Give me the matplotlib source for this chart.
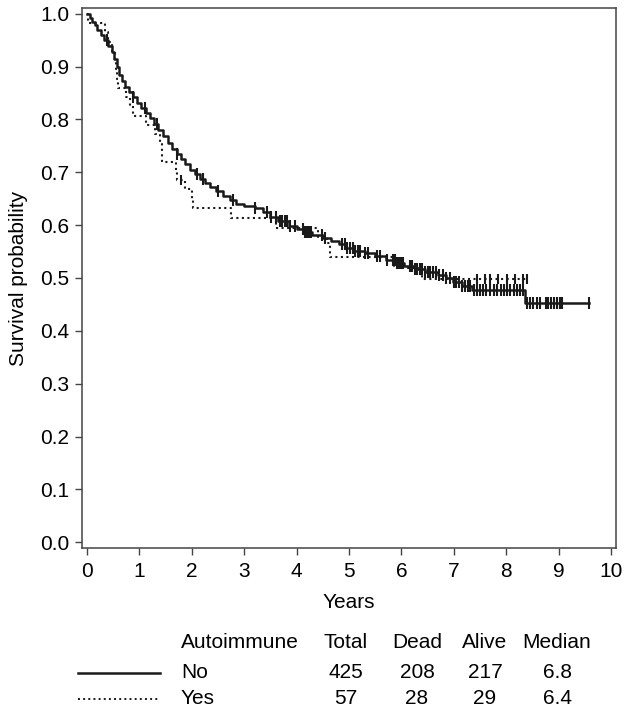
import numpy as np
import matplotlib
matplotlib.use("Agg")
from matplotlib import pyplot as plt
from matplotlib.lines import Line2D

plt.rcParams['font.family'] = ['Liberation Sans', 'DejaVu Sans']

# Kaplan-Meier step points: (time in years, survival after step)
no_times = [0.00, 0.05, 0.10, 0.15, 0.20, 0.27, 0.33, 0.40, 0.47, 0.52, 0.57, 0.62,
            0.67, 0.72, 0.80, 0.88, 0.95, 1.03, 1.12, 1.20, 1.28, 1.36, 1.45, 1.55,
            1.63, 1.72, 1.80, 1.88, 1.97, 2.06, 2.15, 2.25, 2.35, 2.47, 2.60, 2.72,
            2.85, 3.00, 3.20, 3.35, 3.50, 3.65, 3.85, 4.00, 4.15, 4.30, 4.50, 4.65,
            4.80, 4.95, 5.10, 5.30, 5.50, 5.70, 5.90, 6.05, 6.25, 6.45, 6.70, 6.85,
            6.98, 7.15, 7.35, 8.36]
no_surv = [1.000, 0.993, 0.985, 0.978, 0.970, 0.960, 0.950, 0.940, 0.928, 0.915, 0.900, 0.885,
           0.872, 0.862, 0.852, 0.842, 0.832, 0.822, 0.812, 0.802, 0.792, 0.780, 0.768, 0.755,
           0.745, 0.735, 0.725, 0.715, 0.705, 0.697, 0.688, 0.680, 0.672, 0.664, 0.655, 0.647,
           0.640, 0.636, 0.632, 0.625, 0.615, 0.607, 0.598, 0.593, 0.587, 0.582, 0.575, 0.570,
           0.565, 0.557, 0.552, 0.547, 0.541, 0.535, 0.528, 0.522, 0.517, 0.511, 0.506, 0.500,
           0.492, 0.485, 0.477, 0.452]
no_end = 9.58
no_censor = [0.38, 0.88, 1.10, 1.33, 1.72, 2.10, 2.22, 2.50, 2.79, 3.20, 3.43, 3.52, 3.60,
             3.68, 3.72, 3.77, 3.82, 3.87, 3.97, 4.12, 4.16, 4.20, 4.24, 4.28, 4.48, 4.54,
             4.87, 4.92, 4.97, 5.02, 5.07, 5.12, 5.17, 5.21, 5.30, 5.36, 5.53, 5.59, 5.73,
             5.84, 5.88, 5.92, 5.96, 6.00, 6.03, 6.16, 6.20, 6.25, 6.30, 6.35, 6.40, 6.45,
             6.50, 6.55, 6.60, 6.66, 6.72, 6.80, 6.86, 6.92, 7.00, 7.05, 7.10, 7.16, 7.22,
             7.28, 7.31, 7.38, 7.44, 7.50, 7.56, 7.62, 7.70, 7.76, 7.82, 7.90, 7.96, 8.02,
             8.08, 8.14, 8.20, 8.26, 8.32, 8.40, 8.45, 8.52, 8.58, 8.64, 8.75, 8.80, 8.86,
             8.92, 8.97, 9.02, 9.07, 9.58]

yes_times = [0.00, 0.02, 0.35, 0.40, 0.48, 0.53, 0.55, 0.57, 0.60, 0.75, 0.82, 0.88,
             1.12, 1.30, 1.40, 1.43, 1.70, 1.72, 1.88, 2.00, 2.02, 2.75, 3.60, 4.40,
             4.58, 4.64, 5.85, 6.40]
yes_surv = [1.000, 0.982, 0.965, 0.947, 0.930, 0.912, 0.895, 0.877, 0.860, 0.842, 0.825, 0.807,
            0.789, 0.772, 0.754, 0.719, 0.702, 0.686, 0.668, 0.650, 0.632, 0.614, 0.594, 0.577,
            0.566, 0.540, 0.519, 0.498]
yes_end = 8.40
yes_censor = [1.79, 7.45, 7.60, 7.70, 7.84, 8.02, 8.17, 8.32, 8.40]

# table under the plot
table_header = ['Autoimmune', 'Total', 'Dead', 'Alive', 'Median']
table_rows = [['No', '425', '208', '217', '6.8'],
              ['Yes', '57', '28', '29', '6.4']]

W, H = 629, 713
fig = plt.figure(figsize=(W / 100, H / 100), dpi=100)
ax = fig.add_axes([82 / W, 1 - 548 / H, (616 - 82) / W, (548 - 8) / H])

line_color = '#1a1a1a'
spine_color = '#444444'
fs = 15


def step_curve(times, surv, end):
    t = np.append(times, end)
    s = np.append(surv, surv[-1])
    return t, s


def surv_at(times, surv, t):
    idx = np.searchsorted(times, t, side='right') - 1
    return np.asarray(surv)[idx]


styles = [
    (no_times, no_surv, no_end, no_censor, '-', 1.8, 8),
    (yes_times, yes_surv, yes_end, yes_censor, ':', 1.5, 7),
]
for times, surv, end, cens, ls, lw, ms in styles:
    t, s = step_curve(times, surv, end)
    ax.step(t, s, where='post', color=line_color, linestyle=ls, linewidth=lw)
    ax.plot(cens, surv_at(times, surv, cens), linestyle='none', marker='|',
            markersize=ms, markeredgewidth=1.5, color=line_color)

ax.set_xlim(-0.095, 10.095)
ax.set_ylim(-0.011, 1.011)
ax.set_xticks(np.arange(0, 11, 1))
ax.set_yticks(np.round(np.arange(0, 1.01, 0.1), 1))
ax.set_yticklabels([f'{v:.1f}' for v in np.arange(0, 1.01, 0.1)])
ax.tick_params(direction='out', length=5, width=1, color=spine_color,
               labelsize=fs)
ax.tick_params(axis='x', pad=5)
ax.tick_params(axis='y', pad=4)
for sp in ax.spines.values():
    sp.set_color(spine_color)
    sp.set_linewidth(1.1)
ax.set_xlabel('Years', fontsize=fs, labelpad=9)
ax.set_ylabel('Survival probability', fontsize=fs, labelpad=9)

# legend table
col_x = [181, 346, 417, 485, 557]
col_ha = ['left', 'center', 'center', 'center', 'center']
row_y = [643, 673, 699]
for x, ha, txt in zip(col_x, col_ha, table_header):
    fig.text(x / W, 1 - row_y[0] / H, txt, ha=ha, va='center', fontsize=fs)
line_styles = ['-', ':']
line_widths = [1.8, 1.4]
for r, row in enumerate(table_rows):
    y = 1 - row_y[r + 1] / H
    fig.add_artist(Line2D([78 / W, 160 / W], [y, y], color=line_color,
                          linestyle=line_styles[r], linewidth=line_widths[r]))
    for x, ha, txt in zip(col_x, col_ha, row):
        fig.text(x / W, y, txt, ha=ha, va='center', fontsize=fs)

fig.savefig('out.png', dpi=100)
